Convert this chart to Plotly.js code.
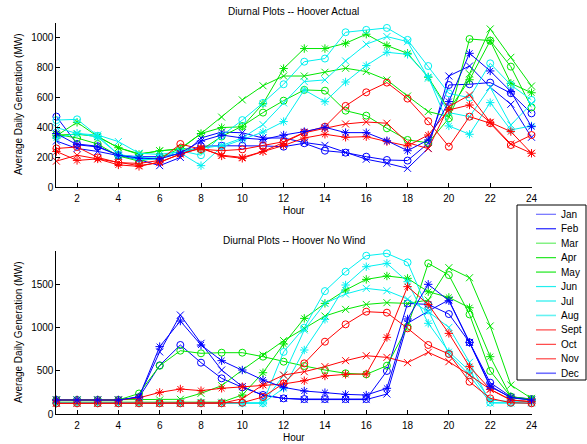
<!DOCTYPE html>
<html>
<head>
<meta charset="utf-8">
<script src="https://cdn.plot.ly/plotly-3.0.1.min.js"></script>
<style>html,body{margin:0;padding:0;background:#fff;}#chart{width:587px;height:444px;}</style>
</head>
<body>
<div id="chart"></div>
<script>
var hours = [1,2,3,4,5,6,7,8,9,10,11,12,13,14,15,16,17,18,19,20,21,22,23,24];
var months = ['Jan','Feb','Mar','Apr','May','Jun','Jul','Aug','Sept','Oct','Nov','Dec'];

// Hoover Actual
var jan_a = [473,290,275,215,205,205,225,275,278,278,277,272,295,245,232,205,183,179,295,685,690,701,630,495];
var feb_a = [310,260,240,210,185,145,200,330,370,365,330,330,300,281,232,188,161,127,261,745,812,670,556,335];
var mar_a = [355,330,290,210,175,200,260,250,340,410,500,580,652,647,513,480,395,317,298,462,993,982,808,535];
var apr_a = [350,355,340,265,225,245,260,360,470,585,680,745,745,770,797,775,719,611,507,473,760,1060,870,678];
var may_a = [345,435,340,265,220,245,255,360,400,405,560,795,929,929,964,1025,949,897,737,518,720,981,696,633];
var jun_a = [450,455,345,220,200,195,245,215,345,450,565,690,841,862,1038,1054,1067,987,812,629,600,830,685,585];
var jul_a = [400,360,350,306,228,220,240,260,280,330,420,565,708,719,846,958,1009,975,730,500,473,670,417,560];
var aug_a = [330,362,335,220,185,190,230,145,270,320,370,440,652,573,705,815,904,890,740,411,355,567,384,411];
var sep_a = [260,270,200,165,160,180,290,255,245,254,280,305,368,406,545,636,701,594,442,272,473,429,283,350];
var oct_a = [175,215,190,165,145,165,225,260,215,200,240,300,365,395,424,437,429,299,259,540,618,435,290,228];
var nov_a = [240,180,190,150,140,170,220,265,210,194,239,280,330,355,335,339,306,277,350,518,551,435,373,228];
var dec_a = [360,285,270,215,195,190,230,310,350,330,320,350,373,402,366,366,312,245,317,574,897,779,641,406];

// Hoover No Wind
var jan_n = [165,165,165,165,195,565,800,596,415,311,223,184,176,176,176,176,500,1280,1268,1157,830,365,203,176];
var feb_n = [165,165,165,165,200,720,1146,819,511,320,220,184,170,170,170,170,234,1050,1190,1320,830,330,190,165];
var mar_n = [165,165,165,165,240,560,734,704,711,711,665,607,557,511,473,461,561,1011,1742,1607,1153,500,203,173];
var apr_n = [165,165,165,165,165,165,173,242,330,511,684,850,991,1134,1211,1268,1288,1280,1318,1692,1576,1019,338,184];
var may_n = [140,140,140,140,140,140,140,140,140,223,480,811,1107,1280,1434,1557,1596,1569,1415,1349,1230,665,203,165];
var jun_n = [130,130,130,130,130,130,130,130,130,130,130,720,1000,1422,1646,1830,1857,1753,1200,700,450,135,130,130];
var jul_n = [130,130,130,130,130,130,130,130,130,130,130,450,973,1280,1388,1453,1426,1330,1184,1003,600,130,130,130];
var aug_n = [130,130,130,130,130,130,130,130,130,130,130,300,742,1096,1492,1703,1742,1530,1050,722,500,165,146,146];
var sep_n = [127,127,127,127,127,127,127,127,127,134,200,357,588,838,1038,1184,1173,992,800,696,376,184,134,127];
var oct_n = [127,127,127,127,127,127,127,127,127,180,340,453,492,550,619,676,657,596,715,607,453,288,165,146];
var nov_n = [165,165,165,165,190,253,292,273,300,319,338,350,388,442,461,465,888,1473,1268,934,550,288,165,146];
var dec_n = [165,165,165,165,200,781,1076,800,619,511,396,311,269,250,230,222,300,1100,1500,1311,830,319,196,165];

var actual = [jan_a,feb_a,mar_a,apr_a,may_a,jun_a,jul_a,aug_a,sep_a,oct_a,nov_a,dec_a];
var nowind = [jan_n,feb_n,mar_n,apr_n,may_n,jun_n,jul_n,aug_n,sep_n,oct_n,nov_n,dec_n];

var BLUE='#0000ff', GREEN='#00e600', CYAN='#00f0f0', RED='#ff0000';
var colors = [BLUE,BLUE,GREEN,GREEN,GREEN,CYAN,CYAN,CYAN,RED,RED,RED,BLUE];
var legendColors = ['#6f6fff','#2222ff','#66ee66','#22e622','#55ee55','#22eeee','#22eeee','#66f2f2','#ff4444','#ff4444','#ff4444','#6f6fff'];
var symbols = ['circle-open','x-thin-open','circle-open','x-thin-open','asterisk-open','circle-open','x-thin-open','asterisk-open','circle-open','x-thin-open','asterisk-open','asterisk-open'];

var W=587, H=444;
function px(x){return x/W;}
function py(y){return 1-y/H;}

var traces=[];
function addSeries(data, xa, ya){
  for(var i=0;i<12;i++){
    traces.push({
      x: hours, y: data[i], xaxis: xa, yaxis: ya, type:'scatter', mode:'lines+markers',
      name: months[i], showlegend:false, cliponaxis:false,
      line:{color:colors[i], width:1},
      marker:{symbol:symbols[i], size:7, color:colors[i], line:{color:colors[i], width:1}}
    });
  }
}
addSeries(actual,'x','y');
addSeries(nowind,'x2','y2');

var font = {family:'Liberation Sans, Arial, Helvetica, sans-serif', size:10, color:'#000'};
var xdom = [px(56.4), px(531.5)];
function xax(anchor){
  return {domain:xdom, range:[1,24], anchor:anchor, tickmode:'array', tickvals:[2,4,6,8,10,12,14,16,18,20,22,24],
    showline:true, linecolor:'#000', linewidth:1, ticks:'inside', ticklen:4, tickcolor:'#000',
    showgrid:false, zeroline:false, tickfont:font, ticklabelstandoff:2};
}
function yax(anchor, dom, rng, tv){
  return {domain:dom, range:rng, anchor:anchor, tickmode:'array', tickvals:tv,
    showline:true, linecolor:'#000', linewidth:1, ticks:'inside', ticklen:4, tickcolor:'#000',
    showgrid:false, zeroline:false, tickfont:font};
}

var annotations = [
  {text:'Diurnal Plots -- Hoover Actual', x:px(294), y:py(12), xref:'paper', yref:'paper', showarrow:false, xanchor:'center', yanchor:'middle', font:font},
  {text:'Hour', x:px(294), y:py(211), xref:'paper', yref:'paper', showarrow:false, xanchor:'center', yanchor:'middle', font:font},
  {text:'Average Daily Generation (MW)', x:px(18), y:py(104), xref:'paper', yref:'paper', showarrow:false, xanchor:'center', yanchor:'middle', textangle:-90, font:font},
  {text:'Diurnal Plots -- Hoover No Wind', x:px(294), y:py(240), xref:'paper', yref:'paper', showarrow:false, xanchor:'center', yanchor:'middle', font:font},
  {text:'Hour', x:px(294), y:py(437), xref:'paper', yref:'paper', showarrow:false, xanchor:'center', yanchor:'middle', font:font},
  {text:'Average Daily Generation (MW)', x:px(18), y:py(332), xref:'paper', yref:'paper', showarrow:false, xanchor:'center', yanchor:'middle', textangle:-90, font:font}
];
var shapes = [
  {type:'rect', xref:'paper', yref:'paper', x0:px(517), x1:px(586), y0:py(380), y1:py(205), line:{color:'#000', width:1}, fillcolor:'#fff', layer:'above'}
];
for(var i=0;i<12;i++){
  var yy = 214.3 + i*14.45;
  shapes.push({type:'line', xref:'paper', yref:'paper', x0:px(536), x1:px(556), y0:py(yy), y1:py(yy), line:{color:legendColors[i], width:(i===11||i===4||i===7)?1.6:1.2}, layer:'above'});
  annotations.push({text:months[i], x:px(559), y:py(yy), xref:'paper', yref:'paper', showarrow:false, xanchor:'left', yanchor:'middle', font:font});
}

var layout = {
  width:W, height:H, margin:{l:0,r:0,t:0,b:0}, paper_bgcolor:'#fff', plot_bgcolor:'#fff',
  showlegend:false, font:font,
  xaxis: xax('y'),
  yaxis: yax('x', [py(187.3), py(23)], [0,1100], [0,200,400,600,800,1000]),
  xaxis2: xax('y2'),
  yaxis2: yax('x2', [py(414.3), py(250.7)], [0,1888], [0,500,1000,1500]),
  annotations: annotations, shapes: shapes
};
Plotly.newPlot('chart', traces, layout, {staticPlot:true, displayModeBar:false});
</script>
</body>
</html>
